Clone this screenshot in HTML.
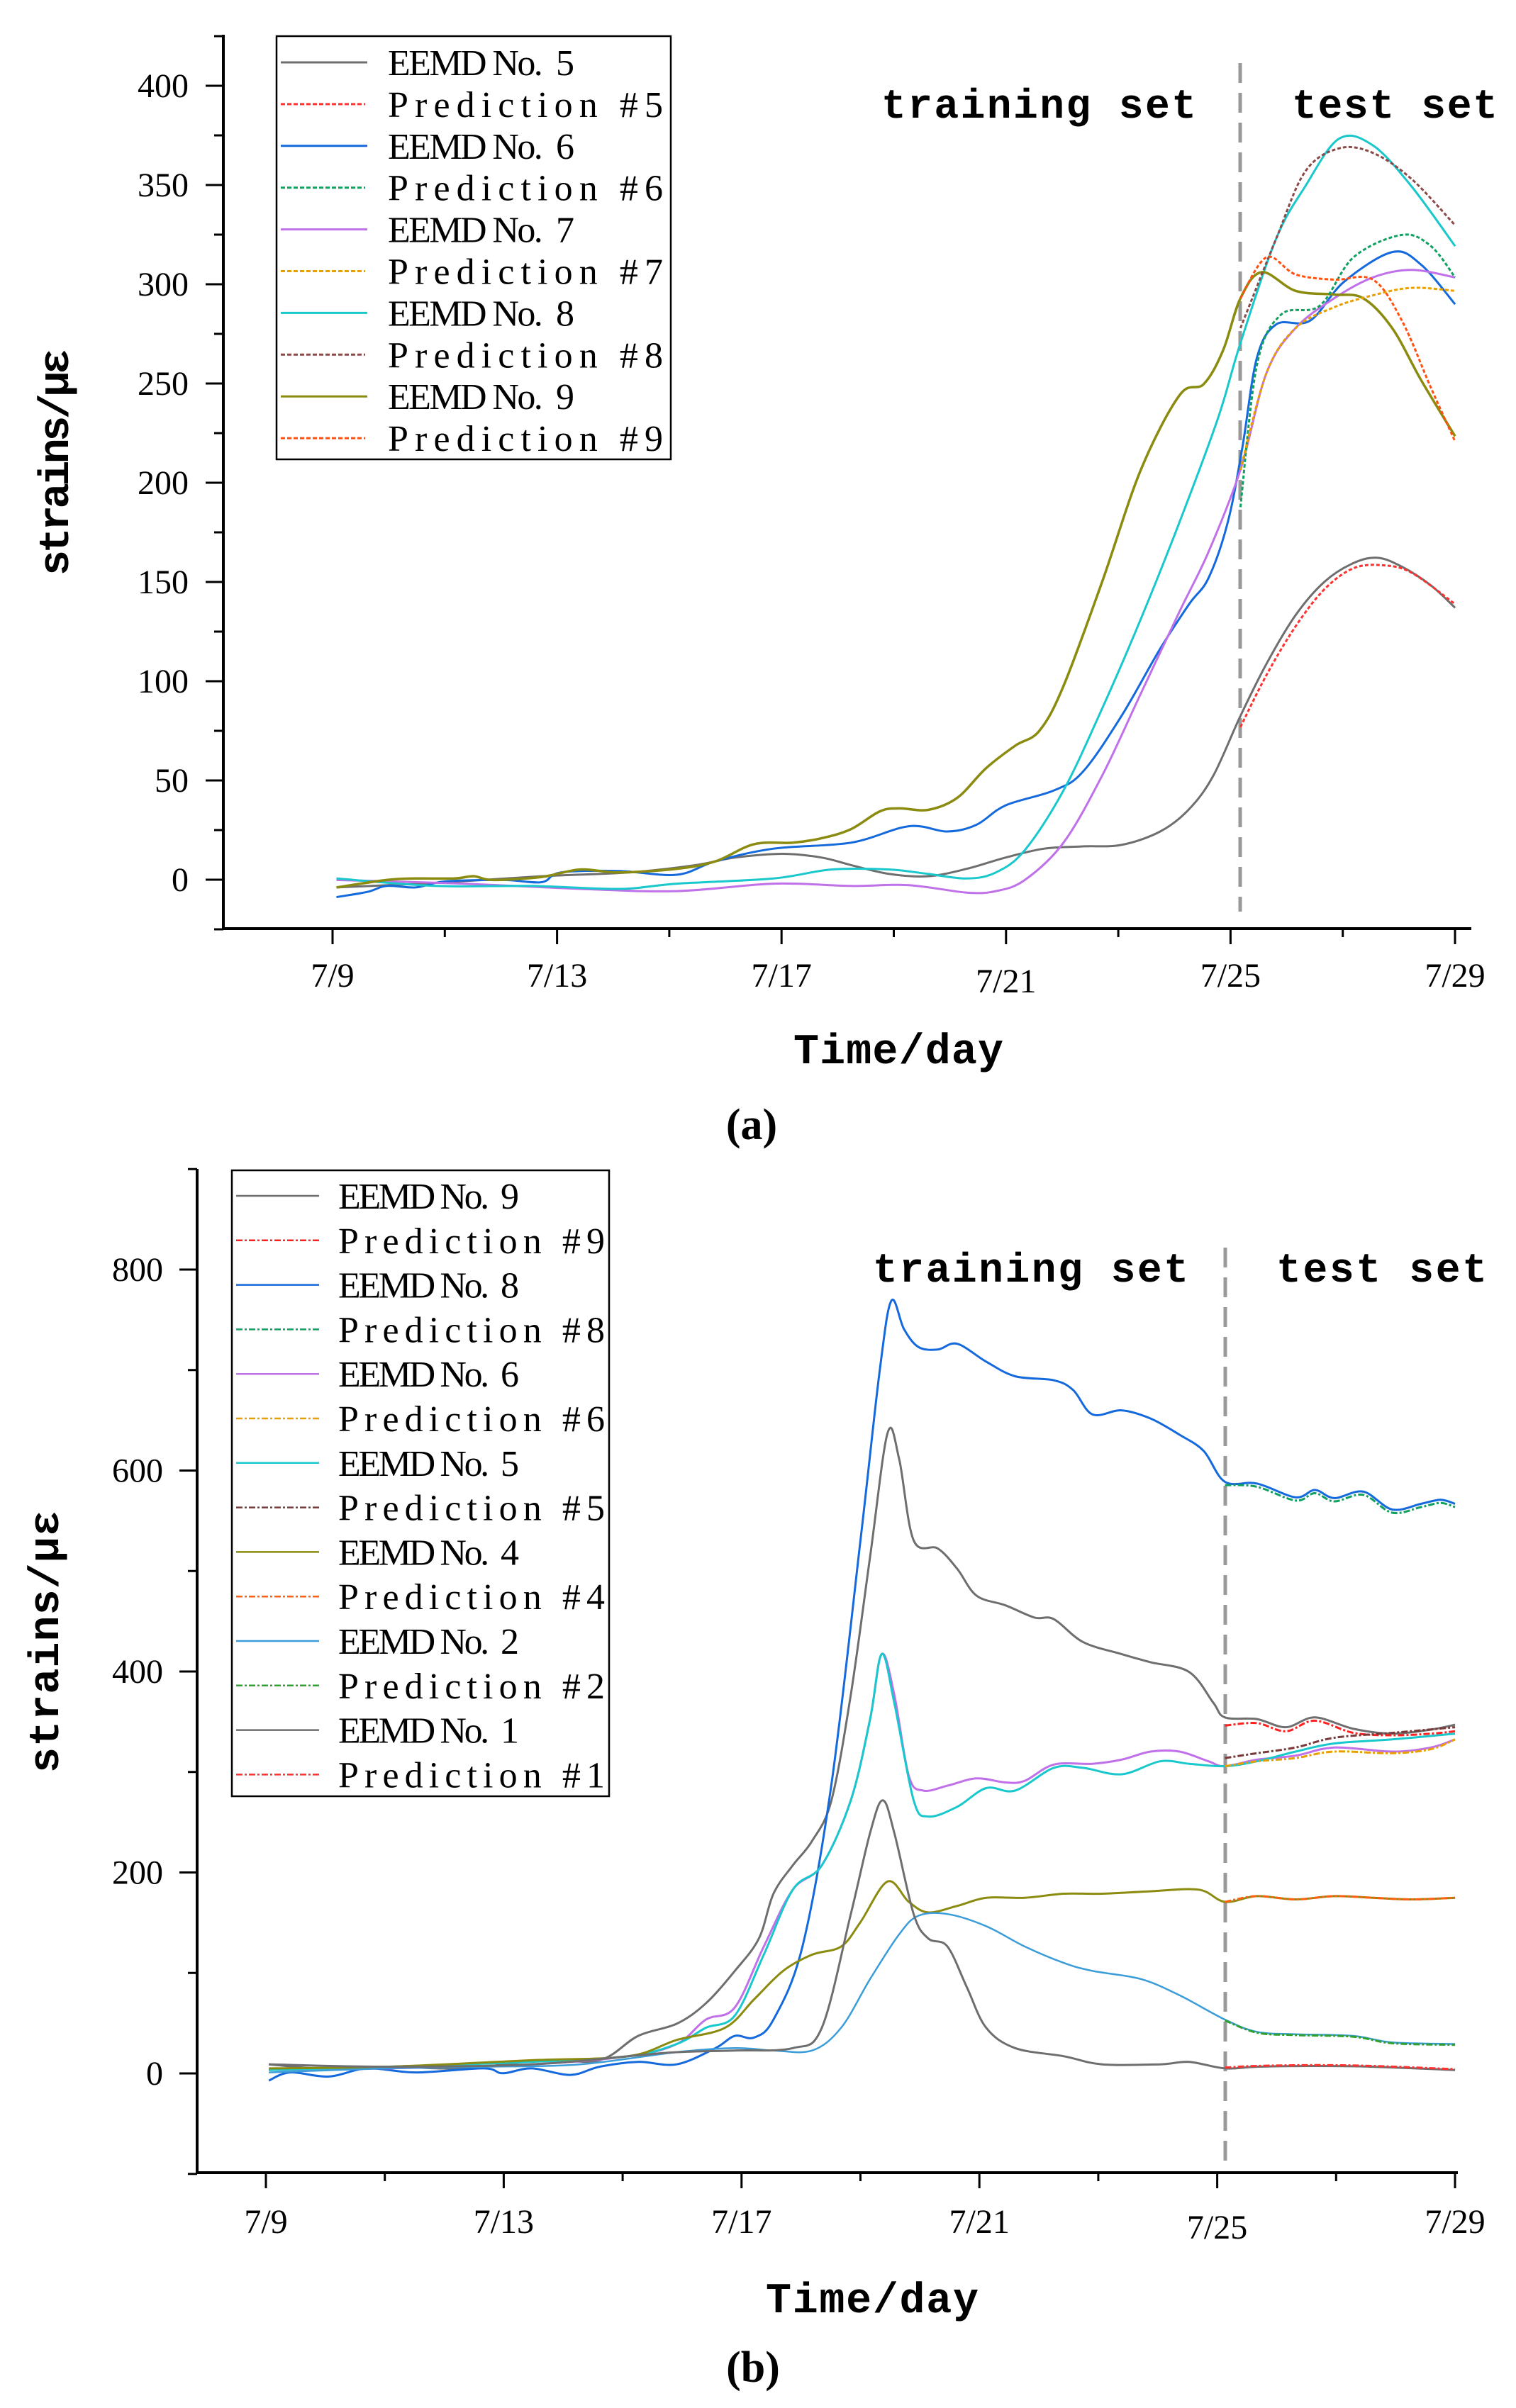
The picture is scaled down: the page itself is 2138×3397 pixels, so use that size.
<!DOCTYPE html>
<html><head><meta charset="utf-8"><style>html,body{margin:0;padding:0;background:#fff}svg{display:block}</style></head>
<body>
<svg id="s" width="2138" height="3397" viewBox="0 0 2138 3397" xmlns="http://www.w3.org/2000/svg" font-family="Liberation Serif, serif">
<rect width="2138" height="3397" fill="#fff"/>
<g id="g"></g>
</svg>
<script>
const NS="http://www.w3.org/2000/svg";const G=document.getElementById('g');
function el(t,a,txt){const e=document.createElementNS(NS,t);for(const k in a)e.setAttribute(k,a[k]);if(txt!==undefined)e.textContent=txt;G.appendChild(e);return e;}
function cr(p){let d="M"+p[0][0].toFixed(1)+","+p[0][1].toFixed(1);for(let i=0;i<p.length-1;i++){const p0=p[i-1]||p[i],p1=p[i],p2=p[i+1],p3=p[i+2]||p2;const c1=[p1[0]+(p2[0]-p0[0])/6,p1[1]+(p2[1]-p0[1])/6],c2=[p2[0]-(p3[0]-p1[0])/6,p2[1]-(p3[1]-p1[1])/6];d+="C"+c1[0].toFixed(1)+","+c1[1].toFixed(1)+" "+c2[0].toFixed(1)+","+c2[1].toFixed(1)+" "+p2[0].toFixed(1)+","+p2[1].toFixed(1);}return d;}
const SX=1.3635;
function T1(a){return a.map(q=>[q[0]*SX,q[1]*1.052]);}
function T2(a){return a.map(q=>[q[0]*SX,1600+q[1]*1.146]);}
function series(pts,col,dash,w){el('path',{d:cr(pts),fill:'none',stroke:col,'stroke-width':w||3,'stroke-dasharray':dash||'none'});}
function shift(a,dy,from){return a.filter(q=>q[0]>=from).map(q=>[q[0],q[1]+dy]);}
// ---------- Chart A ----------
(function(){
const x0=315,yT=49,yB=1310,xE=2075;
const yv=v=>1241-v*2.8, xd=d=>469+d*79.15;
el('line',{x1:x0,y1:yT,x2:x0,y2:yB+2,stroke:'#000','stroke-width':4});
el('line',{x1:x0-2,y1:yB,x2:xE,y2:yB,stroke:'#000','stroke-width':4});
for(let v=-25;v<=425;v+=25){const y=yv(v);const maj=v%50===0;el('line',{x1:x0-(maj?25:13),y1:y,x2:x0,y2:y,stroke:'#000','stroke-width':3});if(maj&&v>=0)el('text',{x:266,y:y+16,'font-size':48,'text-anchor':'end'},String(v));}
const lab=['7/9','7/13','7/17','7/21','7/25','7/29'];
for(let d=0;d<=20;d+=2){const x=xd(d);const maj=d%4===0;el('line',{x1:x,y1:yB,x2:x,y2:yB+(maj?22:12),stroke:'#000','stroke-width':3});if(maj)el('text',{x:x,y:1392+(d==12?8:0),'font-size':48,'text-anchor':'middle'},lab[d/4]);}
el('line',{x1:1749,y1:89,x2:1749,y2:1286,stroke:'#999','stroke-width':5,'stroke-dasharray':'28,14'});
el('text',{x:1243,y:166,'font-size':58,'font-weight':'bold','font-family':'Liberation Mono, monospace',textLength:444},'training set');
el('text',{x:1822,y:166,'font-size':58,'font-weight':'bold','font-family':'Liberation Mono, monospace',textLength:290},'test set');
el('text',{x:1267,y:1500,'font-size':60,'font-weight':'bold','font-family':'Liberation Mono, monospace','text-anchor':'middle',textLength:296},'Time/day');
el('text',{x:1060,y:1607,'font-size':62,'font-weight':'bold','text-anchor':'middle'},'(a)');
el('text',{x:0,y:0,'font-size':60,'font-weight':'bold','font-family':'Liberation Mono, monospace','text-anchor':'middle',textLength:320,transform:'translate(96,652) rotate(-90)'},'strains/με');
const E5=[[348,1190],[450,1184],[560,1175],[650,1170],[720,1160],[760,1150],[810,1145],[850,1150],[880,1160],[920,1172],[960,1175],[1000,1165],[1040,1150],[1080,1138],[1120,1135],[1160,1133],[1200,1115],[1230,1085],[1255,1040],[1283,960],[1310,890],[1340,825],[1370,780],[1400,755],[1425,748],[1450,760],[1480,785],[1505,815]];
const P5=[[1283,975],[1310,905],[1340,840],[1370,790],[1400,762],[1430,758],[1460,768],[1505,810]];
const E6=[[348,1203],[380,1196],[400,1188],[430,1190],[460,1182],[520,1180],[560,1183],[580,1170],[640,1168],[700,1173],[740,1155],[800,1138],[880,1130],[940,1108],[980,1115],[1010,1106],[1040,1080],[1090,1060],[1120,1035],[1160,960],[1200,870],[1230,810],[1250,775],[1270,700],[1285,600],[1300,480],[1320,435],[1355,430],[1390,378],[1440,338],[1470,355],[1505,408]];
const P6=[[1283,680],[1300,490],[1325,422],[1365,410],[1400,345],[1450,315],[1480,330],[1505,372]];
const E7=[[348,1180],[480,1185],[600,1192],[700,1195],[800,1185],[880,1188],[940,1187],[1000,1197],[1030,1195],[1060,1180],[1100,1130],[1140,1040],[1180,930],[1220,820],[1250,740],[1283,630],[1310,500],[1340,440],[1380,400],[1420,372],[1460,362],[1505,372]];
const P7=[[1283,630],[1310,500],[1340,440],[1380,412],[1420,396],[1460,386],[1505,390]];
const E8=[[348,1178],[450,1188],[550,1188],[640,1192],[700,1185],[800,1178],[860,1166],[920,1166],[960,1172],[1000,1178],[1030,1170],[1060,1140],[1100,1060],[1140,950],[1180,830],[1220,700],[1260,560],[1283,460],[1320,320],[1350,250],[1385,186],[1420,195],[1460,250],[1505,330]];
const P8=[[1283,440],[1320,320],[1350,230],[1385,199],[1420,205],[1460,240],[1505,302]];
const E9=[[348,1190],[400,1180],[430,1178],[470,1178],[490,1175],[510,1180],[560,1176],[600,1166],[640,1170],[700,1165],[740,1155],[780,1132],[820,1130],[850,1124],[880,1112],[910,1088],[930,1084],[960,1086],[990,1070],[1020,1030],[1050,1000],[1075,980],[1100,920],[1140,780],[1180,630],[1220,530],[1245,515],[1265,470],[1283,400],[1305,365],[1340,390],[1380,395],[1410,400],[1440,440],[1470,510],[1505,585]];
const P9=[[1283,400],[1310,345],[1340,368],[1380,375],[1420,375],[1450,430],[1480,520],[1505,592]];
series(T1(E5),'#6e6e6e');series(T1(E6),'#1469dc');series(T1(E7),'#c070e8');series(T1(E8),'#18c8cc');series(T1(E9),'#8b8b10',null,3.5);
series(T1(P5),'#ff3030','5,3');series(T1(P6),'#10a060','5,3');series(T1(P7),'#e8a000','5,3');series(T1(P8),'#8b4a4a','5,3');series(T1(P9),'#ff5010','5,3');
el('rect',{x:390,y:51,width:556,height:597,fill:'#fff',stroke:'#000','stroke-width':2.5});
const L=[['EEMD No.  5','#6e6e6e',0],['Prediction #5','#ff3030',1],['EEMD No.  6','#1469dc',0],['Prediction #6','#10a060',1],['EEMD No.  7','#c070e8',0],['Prediction #7','#e8a000',1],['EEMD No.  8','#18c8cc',0],['Prediction #8','#8b4a4a',1],['EEMD No.  9','#8b8b10',0],['Prediction #9','#ff5010',1]];
L.forEach((r,i)=>{const y=88+i*58.9;el('line',{x1:396,y1:y,x2:(r[2]?515:518),y2:y,stroke:r[1],'stroke-width':3,'stroke-dasharray':r[2]?'6,3':'none'});el('text',{x:547,y:y+18,'font-size':52,textLength:(r[2]?388:263),lengthAdjust:'spacing','xml:space':'preserve',style:'white-space:pre'},r[0]);});
})();
// ---------- Chart B ----------
(function(){
const x0=278,yT=1649,yB=3065,xE=2056;
const yv=v=>2925-v*1.4175, xd=d=>375+d*83.85;
el('line',{x1:x0,y1:yT,x2:x0,y2:yB+2,stroke:'#000','stroke-width':4});
el('line',{x1:x0-2,y1:yB,x2:xE,y2:yB,stroke:'#000','stroke-width':4});
for(let v=-100;v<=900;v+=100){const y=yv(v);const maj=v%200===0;el('line',{x1:x0-(maj?25:13),y1:y,x2:x0,y2:y,stroke:'#000','stroke-width':3});if(maj&&v>=0)el('text',{x:230,y:y+16,'font-size':48,'text-anchor':'end'},String(v));}
const lab=['7/9','7/13','7/17','7/21','7/25','7/29'];
for(let d=0;d<=20;d+=2){const x=xd(d);const maj=d%4===0;el('line',{x1:x,y1:yB,x2:x,y2:yB+(maj?22:12),stroke:'#000','stroke-width':3});if(maj)el('text',{x:x,y:3150+(d==16?8:0),'font-size':48,'text-anchor':'middle'},lab[d/4]);}
el('line',{x1:1728,y1:1760,x2:1728,y2:3055,stroke:'#999','stroke-width':5,'stroke-dasharray':'28,14'});
el('text',{x:1231,y:1808,'font-size':58,'font-weight':'bold','font-family':'Liberation Mono, monospace',textLength:445},'training set');
el('text',{x:1800,y:1808,'font-size':58,'font-weight':'bold','font-family':'Liberation Mono, monospace',textLength:297},'test set');
el('text',{x:1230,y:3262,'font-size':60,'font-weight':'bold','font-family':'Liberation Mono, monospace','text-anchor':'middle',textLength:300},'Time/day');
el('text',{x:1062,y:3360,'font-size':62,'font-weight':'bold','text-anchor':'middle'},'(b)');
el('text',{x:0,y:0,'font-size':60,'font-weight':'bold','font-family':'Liberation Mono, monospace','text-anchor':'middle',textLength:370,transform:'translate(82,2316) rotate(-90)'},'strains/με');
const E9=[[278,1145],[330,1150],[400,1148],[480,1150],[560,1140],[620,1140],[660,1110],[700,1095],[730,1070],[760,1030],[785,990],[800,935],[820,900],[840,870],[860,820],[880,690],[900,520],[918,368],[930,400],[945,500],[970,510],[990,535],[1010,568],[1040,580],[1070,595],[1090,597],[1120,625],[1160,640],[1190,650],[1230,662],[1255,700],[1267,718],[1300,720],[1330,730],[1360,718],[1400,732],[1440,738],[1480,733],[1505,727]];
const P9=[[1267,728],[1300,725],[1330,735],[1360,722],[1400,737],[1440,740],[1480,738],[1505,735]];
const E8=[[278,1165],[300,1155],[340,1160],[380,1150],[430,1155],[500,1150],[520,1156],[550,1150],[590,1158],[620,1148],[660,1142],[700,1145],[740,1125],[760,1110],[780,1112],[800,1090],[830,1000],[860,800],[890,500],[910,290],[922,205],[935,240],[950,262],[970,265],[990,258],[1020,280],[1050,298],[1090,303],[1110,315],[1130,345],[1160,340],[1190,350],[1220,370],[1245,390],[1267,428],[1300,430],[1340,447],[1360,438],[1380,448],[1410,440],[1440,462],[1470,455],[1490,450],[1505,455]];
const E6=[[278,1152],[400,1150],[550,1145],[650,1135],[700,1120],[730,1090],[760,1075],[790,1000],[820,930],[850,900],[880,820],[900,720],[912,640],[925,690],[940,790],[955,808],[980,802],[1010,793],[1040,798],[1060,796],[1090,776],[1130,775],[1160,770],[1190,760],[1220,760],[1250,772],[1267,778],[1300,770],[1340,765],[1380,755],[1440,760],[1480,755],[1505,745]];
const P6=[[1267,778],[1300,772],[1340,768],[1380,760],[1440,762],[1480,757],[1505,745]];
const E5=[[278,1152],[400,1148],[550,1142],[650,1135],[700,1120],[730,1100],[760,1085],[790,1010],[820,930],[850,900],[880,820],[900,720],[912,640],[925,700],[945,820],[960,840],[990,828],[1020,805],[1050,808],[1090,780],[1120,780],[1160,788],[1200,772],[1230,775],[1267,778],[1300,772],[1340,760],[1380,750],[1440,745],[1505,738]];
const P5=[[1267,768],[1300,762],[1340,755],[1380,743],[1440,737],[1505,730]];
const E4=[[278,1150],[400,1148],[550,1140],[650,1135],[700,1115],[750,1100],[780,1065],[810,1030],[840,1010],[870,1000],[890,970],[918,920],[940,945],[960,958],[990,950],[1020,940],[1060,940],[1100,935],[1140,935],[1190,932],[1240,930],[1267,945],[1300,938],[1340,942],[1380,938],[1420,940],[1460,942],[1505,940]];
const E2=[[278,1155],[400,1150],[500,1148],[600,1145],[700,1130],[760,1125],[800,1128],[840,1128],[870,1100],[900,1040],[930,985],[950,962],[980,960],[1020,975],[1060,1000],[1100,1020],[1130,1030],[1180,1040],[1220,1060],[1267,1090],[1300,1105],[1340,1108],[1400,1110],[1440,1118],[1505,1120]];
const E1=[[278,1145],[400,1148],[550,1145],[650,1135],[700,1130],[760,1128],[820,1125],[850,1100],[880,960],[900,860],[913,820],[925,860],[945,960],[960,990],[980,1000],[1000,1050],[1020,1100],[1050,1125],[1100,1135],[1140,1145],[1200,1145],[1230,1142],[1267,1150],[1300,1148],[1360,1147],[1420,1148],[1505,1152]];
series(T2(E9),'#6e6e6e');series(T2(E8),'#1469dc');series(T2(E6),'#c070e8');series(T2(E5),'#18c8cc');series(T2(E4),'#8b8b10');series(T2(E2),'#3a9cd8',null,2.5);series(T2(E1),'#6e6e6e');
const dd='9,3,3,3';
series(T2(P9),'#ff2020',dd);series(T2(shift(E8,4,1267)),'#10a060',dd);series(T2(P6),'#e8a000',dd);series(T2(P5),'#7a3a3a',dd);series(T2(shift(E4,0,1267)),'#ff6010',dd);series(T2(shift(E2,1,1267)),'#30a030',dd);series(T2(shift(E1,-1,1267)),'#ff3030',dd);
el('rect',{x:327,y:1651,width:532,height:883,fill:'#fff',stroke:'#000','stroke-width':2.5});
const L=[['EEMD No.  9','#6e6e6e',0],['Prediction #9','#ff2020',1],['EEMD No.  8','#1469dc',0],['Prediction #8','#10a060',1],['EEMD No.  6','#c070e8',0],['Prediction #6','#e8a000',1],['EEMD No.  5','#18c8cc',0],['Prediction #5','#7a3a3a',1],['EEMD No.  4','#8b8b10',0],['Prediction #4','#ff6010',1],['EEMD No.  2','#3a9cd8',0],['Prediction #2','#30a030',1],['EEMD No.  1','#6e6e6e',0],['Prediction #1','#ff3030',1]];
L.forEach((r,i)=>{const y=1687+i*62.8;el('line',{x1:333,y1:y,x2:450,y2:y,stroke:r[1],'stroke-width':2.5,'stroke-dasharray':r[2]?dd:'none'});el('text',{x:477,y:y+18,'font-size':52,textLength:(r[2]?376:255),lengthAdjust:'spacing',style:'white-space:pre'},r[0]);});
})();
</script>
</body></html>
